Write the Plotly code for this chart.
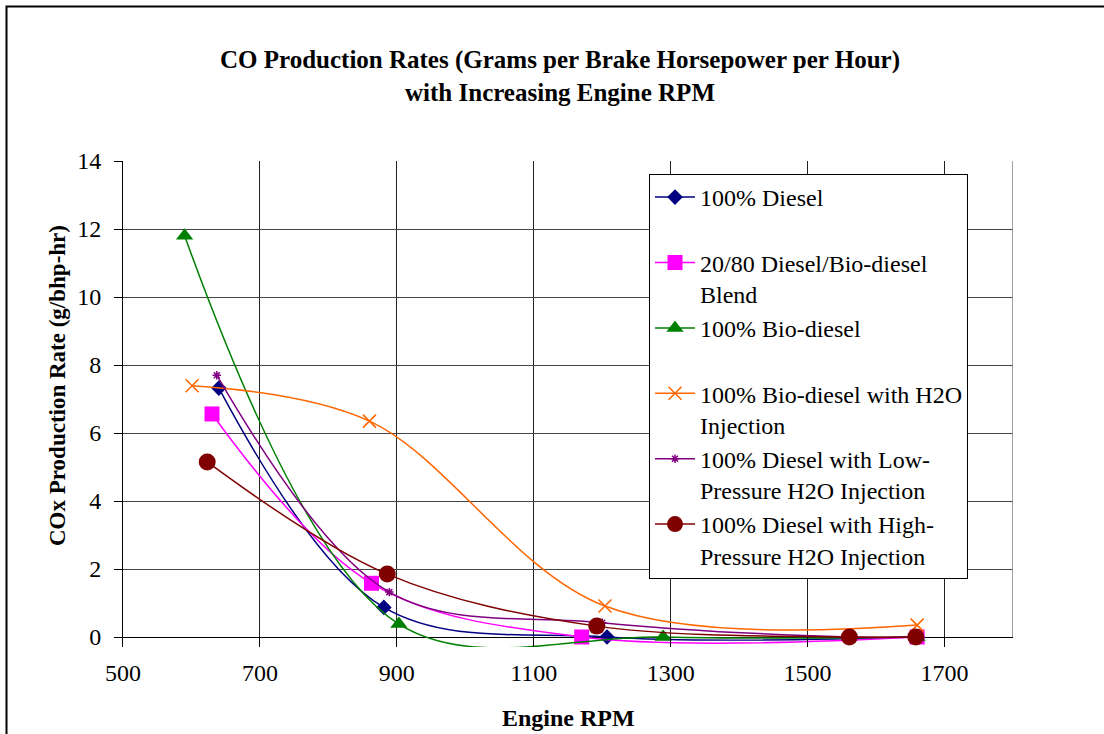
import plotly.graph_objects as go

# ---- data: engine speed (RPM) and CO production (g/bhp-hr) per fuel/injection setup ----
diesel_rpm = [640, 881, 1207, 1660]
diesel_co = [7.32, 0.87, 0.0, 0.0]

blend_rpm = [630, 863, 1170, 1660]
blend_co = [6.56, 1.58, 0.0, 0.0]

bio_rpm = [590, 903, 1289, 1660]
bio_co = [11.8, 0.38, 0.0, 0.0]

bio_h2o_rpm = [601, 860, 1204, 1660]
bio_h2o_co = [7.39, 6.35, 0.91, 0.35]

low_p_rpm = [637, 889, 1200, 1561, 1660]
low_p_co = [7.7, 1.32, 0.42, 0.0, 0.0]

high_p_rpm = [623, 886, 1192, 1561, 1658]
high_p_co = [5.15, 1.85, 0.32, 0.0, 0.0]

series_names = [
    "100% Diesel<br> ",
    "20/80 Diesel/Bio-diesel<br>Blend",
    "100% Bio-diesel<br> ",
    "100% Bio-diesel with H2O<br>Injection",
    "100% Diesel with Low-<br>Pressure H2O Injection",
    "100% Diesel with High-<br>Pressure H2O Injection",
]

x_ticks = [500, 700, 900, 1100, 1300, 1500, 1700]
y_ticks = [0, 2, 4, 6, 8, 10, 12, 14]

title_text = ("<b>CO Production Rates (Grams per Brake Horsepower per Hour)</b><br>"
              "<b>with Increasing Engine RPM</b>")
x_title = "<b>Engine RPM</b>"
y_title = "<b>COx Production Rate (g/bhp-hr)</b>"

# ---- figure geometry ----
W, H = 1104, 734
ML, MR, MT, MB = 123, 91, 161, 87
PW, PH = W - ML - MR, H - MT - MB
FONT = "Liberation Serif, Times New Roman, serif"


def px_x(px):
    return (px - ML) / PW


def px_y(py):
    return (H - MB - py) / PH


styles = [
    dict(color="#000080", symbol="diamond", size=12, lw=0),
    dict(color="#FF00FF", symbol="square", size=15, lw=0),
    dict(color="#008000", symbol="triangle-up", size=15, lw=0),
    dict(color="#FF6600", symbol="x-thin-open", size=13, lw=1.5),
    dict(color="#800080", symbol="asterisk-open", size=7, lw=1.5),
    dict(color="#800000", symbol="circle", size=17, lw=0),
]
xs = [diesel_rpm, blend_rpm, bio_rpm, bio_h2o_rpm, low_p_rpm, high_p_rpm]
ys = [diesel_co, blend_co, bio_co, bio_h2o_co, low_p_co, high_p_co]

fig = go.Figure()
for name, x, y, st in zip(series_names, xs, ys, styles):
    fig.add_trace(go.Scatter(
        x=x, y=y, name=name, mode="lines+markers",
        line=dict(color=st["color"], width=1.5, shape="spline", smoothing=1.0),
        marker=dict(symbol=st["symbol"], size=st["size"], color=st["color"],
                    line=dict(color=st["color"], width=st["lw"])),
    ))

fig.update_layout(
    width=W, height=H, autosize=False,
    margin=dict(l=ML, r=MR, t=MT, b=MB, pad=0),
    paper_bgcolor="white", plot_bgcolor="white",
    font=dict(family=FONT, size=24, color="black"),
    showlegend=True,
    legend=dict(
        x=px_x(649), y=px_y(174), xanchor="left", yanchor="top",
        bgcolor="white", bordercolor="black", borderwidth=1,
        font=dict(family=FONT, size=24, color="black"),
        valign="top", tracegroupgap=0, itemwidth=40,
    ),
    xaxis=dict(
        range=[500, 1800], tickmode="array", tickvals=x_ticks,
        ticktext=[str(v) for v in x_ticks],
        showgrid=True, gridcolor="#222222", gridwidth=1,
        zeroline=False, showline=False,
        ticks="inside", ticklen=10, tickcolor="black", tickwidth=1,
        ticklabelstandoff=9,
        tickfont=dict(family=FONT, size=24, color="black"),
    ),
    yaxis=dict(
        range=[-10 / 34.0, 14], tickmode="array", tickvals=y_ticks,
        ticktext=[str(v) for v in y_ticks],
        showgrid=True, gridcolor="#444444", gridwidth=1,
        zeroline=True, zerolinecolor="black", zerolinewidth=1,
        showline=True, linecolor="black", linewidth=1,
        ticks="outside", ticklen=8, tickcolor="black", tickwidth=1,
        ticklabelstandoff=8,
        tickfont=dict(family=FONT, size=24, color="black"),
    ),
    annotations=[
        dict(text=title_text, xref="paper", yref="paper",
             x=px_x(560), y=px_y(76), xanchor="center", yanchor="middle",
             showarrow=False, font=dict(family=FONT, size=25, color="black")),
        dict(text=x_title, xref="paper", yref="paper",
             x=px_x(568), y=px_y(718), xanchor="center", yanchor="middle",
             showarrow=False, font=dict(family=FONT, size=24, color="black")),
        dict(text=y_title, xref="paper", yref="paper",
             x=px_x(57), y=px_y(386), xanchor="center", yanchor="middle",
             textangle=-90, showarrow=False,
             font=dict(family=FONT, size=23, color="black")),
    ],
    shapes=[
        # chart frame
        dict(type="rect", xref="paper", yref="paper",
             x0=px_x(6.5), x1=px_x(1112), y0=px_y(745), y1=px_y(6.5),
             line=dict(color="black", width=2), fillcolor="rgba(0,0,0,0)",
             layer="above"),
        # right edge of the plot area
        dict(type="line", xref="x", yref="y", x0=1800, x1=1800, y0=0, y1=14,
             line=dict(color="#808080", width=1.5)),
    ],
)

fig.write_html("out.html")
